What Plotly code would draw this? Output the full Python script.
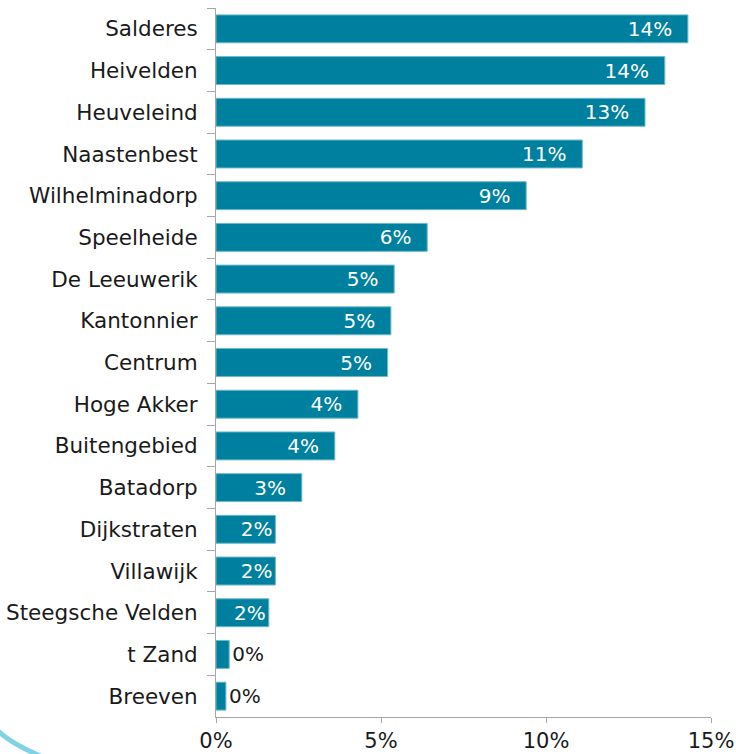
import plotly.graph_objects as go

categories = ["Salderes", "Heivelden", "Heuveleind", "Naastenbest", "Wilhelminadorp",
              "Speelheide", "De Leeuwerik", "Kantonnier", "Centrum", "Hoge Akker",
              "Buitengebied", "Batadorp", "Dijkstraten", "Villawijk", "Steegsche Velden",
              "t Zand", "Breeven"]
values = [14.3, 13.6, 13.0, 11.1, 9.4, 6.4, 5.4, 5.3, 5.2, 4.3, 3.6, 2.6, 1.8, 1.8, 1.6, 0.4, 0.3]
tick_vals = [0, 5, 10, 15]
tick_text = ["0%", "5%", "10%", "15%"]

FONT = "DejaVu Sans"
BAR = "#00809f"

labels = [f"{v:.0f}%" for v in values]
inside = [v >= 1 for v in values]
texts = []
for t, v, ins in zip(labels, values, inside):
    if ins and v >= 2.5:
        texts.append(t + "\u2007")
    else:
        texts.append(t)
positions = ["inside" if ins else "outside" for ins in inside]
colors = ["white" if ins else "#1a1a1a" for ins in inside]

fig = go.Figure(go.Bar(
    x=values, y=categories, orientation="h",
    marker=dict(color=BAR, line=dict(color="#6fb9cb", width=1)),
    text=texts, textposition=positions, insidetextanchor="end",
    textfont=dict(family=FONT, size=20, color=colors),
    cliponaxis=False, hoverinfo="skip",
))

fig.update_layout(
    width=736, height=754,
    margin=dict(l=216, r=25, t=8, b=37),
    paper_bgcolor="white", plot_bgcolor="white",
    bargap=0.33, showlegend=False,
    uniformtext=dict(minsize=20, mode="show"),
    font=dict(family=FONT, size=20, color="#1a1a1a"),
    xaxis=dict(range=[0, 15], tickvals=tick_vals, ticktext=tick_text, automargin=False,
               showgrid=False, zeroline=False, showline=True, linecolor="#a6a6a6",
               linewidth=1, ticks="outside", ticklen=5, tickcolor="#a6a6a6",
               tickfont=dict(family=FONT, size=21, color="#1a1a1a")),
    yaxis=dict(autorange="reversed", showgrid=False, zeroline=False, showline=True,
               linecolor="#a6a6a6", linewidth=1, ticks="outside", ticklen=8, automargin=False,
               tickcolor="#a6a6a6", tickson="boundaries", ticklabelstandoff=13,
               tickfont=dict(family=FONT, size=21.5, color="#1a1a1a")),
    shapes=[dict(type="path", xref="paper", yref="paper",
                 path="M -0.4465,-0.0155 Q -0.4121,-0.0409 -0.3192,-0.0649",
                 line=dict(color="#7fd3e5", width=5))],
)

fig.write_html("out.html", config={"displayModeBar": False},
               post_script="document.body.style.margin='0';document.body.style.overflow='hidden';")
